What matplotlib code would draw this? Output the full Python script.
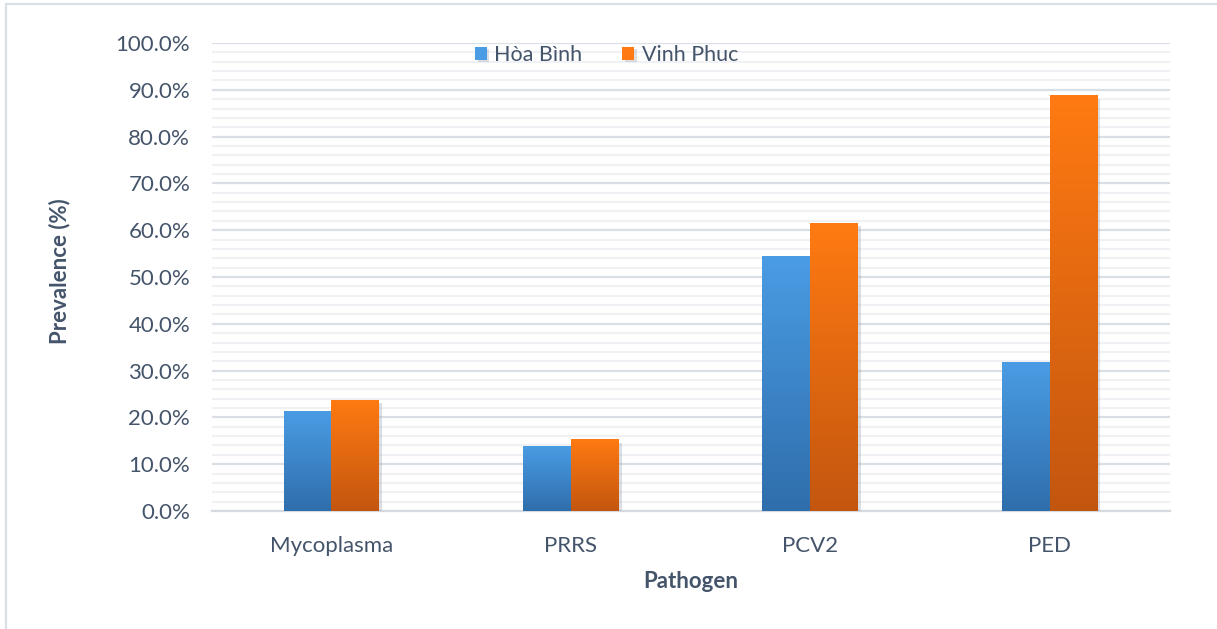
import numpy as np
import matplotlib.pyplot as plt
from matplotlib.colors import LinearSegmentedColormap
from matplotlib.patches import Rectangle
from matplotlib.ticker import MultipleLocator, FuncFormatter
import matplotlib.patheffects as pe

pathogens = ["Mycoplasma", "PRRS", "PCV2", "PED"]
hoa_binh = [21.2, 13.7, 54.3, 31.8]
vinh_phuc = [23.7, 15.2, 61.5, 88.7]
series_names = ["Hòa Bình", "Vinh Phuc"]

text_color = "#44546A"
plt.rcParams["font.family"] = ["Lato", "DejaVu Sans"]

fig = plt.figure(figsize=(12.17, 6.29), dpi=100)
ax = fig.add_axes([0.174, 0.1876, 0.787, 0.744])

# light frame around the chart area
fig.patches.append(Rectangle((6 / 1217, -0.05), 1.1, 1 - 4 / 629 + 0.05,
                             transform=fig.transFigure, fill=False,
                             edgecolor="#DADFE4", linewidth=1.6))

x = np.arange(len(pathogens))
w = 0.2

blue_cmap = LinearSegmentedColormap.from_list("b", ["#2F6EAC", "#4A9CE4"])
orange_cmap = LinearSegmentedColormap.from_list("o", ["#C3560F", "#FF7A12"])

grad = np.linspace(0, 1, 256).reshape(-1, 1)
shadow = [pe.SimplePatchShadow(offset=(2, -2), shadow_rgbFace="#9AA3AD", alpha=0.35), pe.Normal()]

bars_hb = ax.bar(x - w / 2, hoa_binh, w, color="#4A9CE4", label=series_names[0],
                 zorder=3, path_effects=shadow)
bars_vp = ax.bar(x + w / 2, vinh_phuc, w, color="#FF7A12", label=series_names[1],
                 zorder=3, path_effects=shadow)

# vertical gradient fill for each bar
for bars, cmap in [(bars_hb, blue_cmap), (bars_vp, orange_cmap)]:
    for b in bars:
        x0, y0 = b.get_x(), b.get_y()
        bw, bh = b.get_width(), b.get_height()
        ax.imshow(grad, cmap=cmap, origin="lower", aspect="auto",
                  extent=[x0, x0 + bw, y0, y0 + bh], zorder=4)

ax.set_xlim(-0.5, len(pathogens) - 0.5)
ax.set_ylim(0, 100)

ax.yaxis.set_major_locator(MultipleLocator(10))
ax.yaxis.set_minor_locator(MultipleLocator(2))
ax.yaxis.set_major_formatter(FuncFormatter(lambda v, p: f"{v:.1f}%"))
ax.grid(axis="y", which="major", color="#DADFE6", linewidth=1.6, zorder=0)
ax.grid(axis="y", which="minor", color="#F0F1F4", linewidth=1.5, zorder=0)
ax.set_axisbelow(True)

ax.set_xticks(x)
ax.set_xticklabels(pathogens)
ax.tick_params(axis="both", which="both", length=0, labelsize=16, colors=text_color)
ax.tick_params(axis="x", pad=18)
ax.tick_params(axis="y", pad=15.5)

for s in ["top", "right", "left"]:
    ax.spines[s].set_visible(False)
ax.spines["bottom"].set_color("#D5DAE1")
ax.spines["bottom"].set_linewidth(1.6)

ax.set_ylabel("Prevalence (%)", fontsize=16, fontweight="bold", color=text_color)
ax.set_xlabel("Pathogen", fontsize=16, fontweight="bold", color=text_color)
ax.yaxis.set_label_coords(-0.148, 0.513)
ax.xaxis.set_label_coords(0.5, -0.128)

leg = ax.legend(loc="center", bbox_to_anchor=(0.412, 0.975), ncol=2, frameon=False,
                fontsize=15.5, handlelength=0.55, handleheight=0.55, columnspacing=1.85,
                handletextpad=0.35, borderpad=0)
for t in leg.get_texts():
    t.set_color(text_color)

fig.savefig("out.png", dpi=100)
